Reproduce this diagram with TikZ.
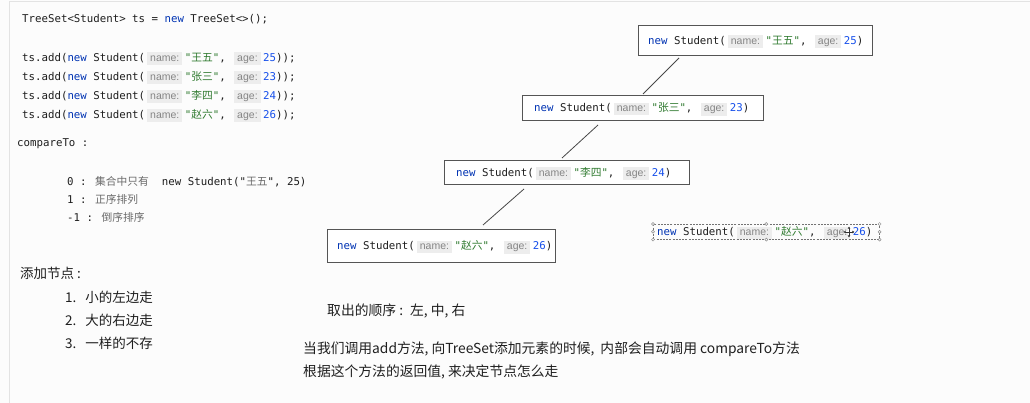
\documentclass[tikz,border=0pt]{standalone}
\usepackage{fontspec}
\usetikzlibrary{arrows.meta}
\setmainfont{Liberation Sans}
\newfontfamily\cjk{Noto Sans CJK SC}
\newfontfamily\codefont{DejaVu Sans Mono}
\newfontfamily\hintfont{Liberation Sans}

\definecolor{pagebg}{HTML}{FCFCFC}
\definecolor{panelline}{HTML}{E3E3E3}
\definecolor{kwblue}{HTML}{0033B3}
\definecolor{numblue}{HTML}{1750EB}
\definecolor{strgreen}{HTML}{2F7A2F}
\definecolor{hintfg}{HTML}{858585}
\definecolor{hintbg}{HTML}{EDEDED}
\definecolor{codefg}{HTML}{1E1E1E}
\definecolor{cmtgray}{HTML}{6A6A6A}
\definecolor{boxline}{HTML}{555555}

% code font and syntax pieces
\newcommand\codesz{\codefont\fontsize{10.75}{13}\selectfont}
\newcommand\notesz{\cjk\fontsize{13.5}{16}\selectfont}
\newcommand\textsz{\cjk\fontsize{13.8}{16}\selectfont}
\newcommand\kwd[1]{{\color{kwblue}#1}}
\newcommand\numlit[1]{{\color{numblue}#1}}
\newcommand\jstr[1]{{\color{strgreen}"{\cjk #1}"}}
\newcommand\inlayhint[1]{\hspace{2pt}{\setlength{\fboxsep}{1.5pt}\colorbox{hintbg}{\rule[-1.8pt]{0pt}{9.5pt}\hspace{1.5pt}\hintfont\fontsize{10.5}{12}\selectfont\color{hintfg}#1\hspace{1.5pt}}}\hspace{2.5pt}}

\begin{document}
\begin{tikzpicture}[x=1pt,y=-1pt,
  code/.style={anchor=base west, inner sep=0pt, text=codefg, font=\codesz},
  note/.style={anchor=base west, inner sep=0pt, text=black!88, font=\notesz},
  para/.style={anchor=base west, inner sep=0pt, text=black!88, font=\textsz},
  sbox/.style={draw=boxline, line width=1pt, fill=white, inner sep=0pt, anchor=north west},
  selbox/.style={draw=black!55, line width=0.6pt, dash pattern=on 2pt off 1.2pt, inner sep=0pt, anchor=north west},
  conn/.style={draw=black!72, line width=0.8pt},
  handle/.style={draw=black!45, fill=white, line width=0.5pt, circle, inner sep=0pt, minimum size=3pt}
]
\useasboundingbox (0,0) rectangle (1030,403);
\fill[pagebg] (0,0) rectangle (1030,403);
\draw[panelline, line width=0.8pt] (9,403) -- (9,1) -- (1030,1);

% source code
\node[code] (c0) at (22,23) {TreeSet<Student> ts = \kwd{new} TreeSet<>();};
\node[code] (c1) at (22,61.5) {ts.add(\kwd{new} Student(\inlayhint{name:}\jstr{王五}, \inlayhint{age:}\numlit{25}));};
\node[code] (c2) at (22,80.5) {ts.add(\kwd{new} Student(\inlayhint{name:}\jstr{张三}, \inlayhint{age:}\numlit{23}));};
\node[code] (c3) at (22,99.5) {ts.add(\kwd{new} Student(\inlayhint{name:}\jstr{李四}, \inlayhint{age:}\numlit{24}));};
\node[code] (c4) at (22,118.5) {ts.add(\kwd{new} Student(\inlayhint{name:}\jstr{赵六}, \inlayhint{age:}\numlit{26}));};

% compareTo notes
\node[code] (k0) at (17,147) {compareTo :};
\node[code] (k1) at (67,185.5) {0 : {\color{cmtgray}\cjk 集合中只有}\hspace{13pt}new Student("{\color{cmtgray}\cjk 王五}", 25)};
\node[code] (k2) at (67,204) {1 : {\color{cmtgray}\cjk 正序排列}};
\node[code] (k3) at (67,222) {-1 : {\color{cmtgray}\cjk 倒序排序}};

% rules for adding nodes
\node[note] (r0) at (20,278) {添加节点 :};
\node[note] (r1) at (65,302) {1.\hspace{9pt}小的左边走};
\node[note] (r2) at (65,325) {2.\hspace{9pt}大的右边走};
\node[note] (r3) at (65,348) {3.\hspace{9pt}一样的不存};

\node[para] (o0) at (327,315) {取出的顺序 :\hspace{7pt}左, 中, 右};
\node[para] (e1) at (303,353) {当我们调用add方法, 向TreeSet添加元素的时候,\hspace{6pt}内部会自动调用 compareTo方法};
\node[para] (e2) at (303,376) {根据这个方法的返回值, 来决定节点怎么走};

% tree boxes
\node[sbox, minimum width=234pt, minimum height=30pt] (b1) at (638,25) {};
\node[sbox, minimum width=241pt, minimum height=25pt] (b2) at (522,95) {};
\node[sbox, minimum width=245pt, minimum height=24pt] (b3) at (444,160) {};
\node[sbox, minimum width=228pt, minimum height=33pt] (b4) at (327,229) {};
\node[selbox, minimum width=226pt, minimum height=15pt] (d1) at (653,224) {};

\node[code] (t1) at ([xshift=10pt,yshift=-4pt]b1.west) {\kwd{new} Student(\inlayhint{name:}\jstr{王五}, \inlayhint{age:}\numlit{25})};
\node[code] (t2) at ([xshift=12pt,yshift=-4pt]b2.west) {\kwd{new} Student(\inlayhint{name:}\jstr{张三}, \inlayhint{age:}\numlit{23})};
\node[code] (t3) at ([xshift=12pt,yshift=-4pt]b3.west) {\kwd{new} Student(\inlayhint{name:}\jstr{李四}, \inlayhint{age:}\numlit{24})};
\node[code] (t4) at ([xshift=10pt,yshift=-4pt]b4.west) {\kwd{new} Student(\inlayhint{name:}\jstr{赵六}, \inlayhint{age:}\numlit{26})};
\node[code] (t5) at ([xshift=4pt,yshift=-4pt]d1.west) {\kwd{new} Student(\inlayhint{name:}\jstr{赵六}, \inlayhint{age:}\numlit{26})};

% branches between boxes
\draw[conn] ([xshift=41pt,yshift=-2pt]b1.south west) -- ([xshift=121pt,yshift=1pt]b2.north west);
\draw[conn] ([xshift=76pt,yshift=-4pt]b2.south west) -- ([xshift=118pt,yshift=2pt]b3.north west);
\draw[conn] ([xshift=80pt,yshift=-4pt]b3.south west) -- ([xshift=156pt,yshift=4pt]b4.north west);

% selection handles
\foreach \a in {north west,north,north east,south west,south,south east,west,east}
  \node[handle] at (d1.\a) {};

% move cursor
\begin{scope}[shift={(849,232)}]
  \draw[white, line width=2.4pt] (-5.5,0) -- (5.5,0) (0,-5.5) -- (0,5.5);
  \draw[black!80, line width=0.8pt, {Latex[length=2.2pt,width=3pt]}-{Latex[length=2.2pt,width=3pt]}] (-5.5,0) -- (5.5,0);
  \draw[black!80, line width=0.8pt, {Latex[length=2.2pt,width=3pt]}-{Latex[length=2.2pt,width=3pt]}] (0,-5.5) -- (0,5.5);
\end{scope}
\end{tikzpicture}
\end{document}
